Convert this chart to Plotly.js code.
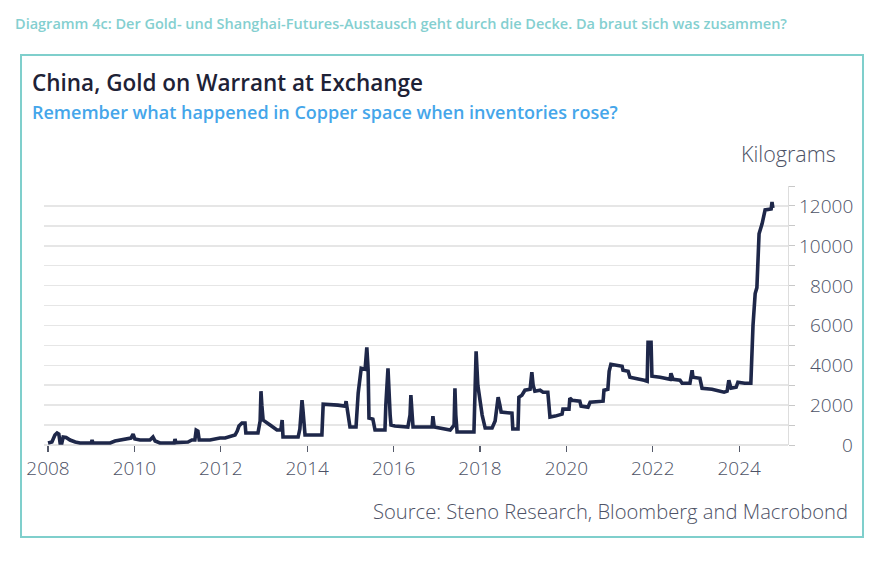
<!DOCTYPE html>
<html>
<head>
<meta charset="utf-8">
<script src="https://cdn.plot.ly/plotly-3.0.1.min.js"></script>
<style>
html,body{margin:0;padding:0;background:#fff;}
#chart{width:885px;height:562px;}
</style>
</head>
<body>
<div id="chart"></div>
<script>
// Decimal years
const years = [
2008.00,2008.09,2008.16,2008.21,2008.25,2008.28,2008.32,2008.35,2008.42,2008.51,2008.63,2008.74,
2009.00,2009.02,2009.04,2009.44,2009.55,2009.78,2009.92,2009.97,2010.01,2010.13,2010.36,2010.43,
2010.48,2010.59,2010.92,2010.94,2010.96,2011.24,2011.33,2011.40,2011.43,2011.47,2011.50,2011.75,
2011.87,2011.98,2012.10,2012.33,2012.38,2012.42,2012.49,2012.56,2012.58,2012.86,2012.91,2012.93,
2012.95,2012.98,2013.14,2013.30,2013.39,2013.42,2013.44,2013.79,2013.83,2013.88,2013.90,2013.95,
2014.34,2014.37,2014.71,2014.88,2014.90,2014.94,2014.99,2015.13,2015.18,2015.25,2015.34,2015.38,
2015.41,2015.43,2015.52,2015.57,2015.80,2015.82,2015.87,2015.92,2015.94,2016.03,2016.33,2016.38,
2016.40,2016.43,2016.45,2016.89,2016.91,2016.94,2017.07,2017.31,2017.40,2017.42,2017.44,2017.47,
2017.86,2017.91,2017.95,2018.00,2018.05,2018.12,2018.28,2018.35,2018.37,2018.42,2018.46,2018.49,
2018.74,2018.76,2018.88,2018.90,2018.97,2019.04,2019.16,2019.18,2019.20,2019.23,2019.27,2019.39,
2019.46,2019.57,2019.62,2019.74,2019.85,2019.90,2019.92,2020.06,2020.08,2020.13,2020.31,2020.34,
2020.50,2020.55,2020.85,2020.87,2020.96,2020.99,2021.03,2021.15,2021.29,2021.31,2021.43,2021.47,
2021.77,2021.80,2021.87,2021.89,2021.96,2021.98,2022.17,2022.28,2022.40,2022.42,2022.47,2022.63,
2022.68,2022.86,2022.91,2022.93,2023.09,2023.14,2023.37,2023.65,2023.72,2023.76,2023.81,2023.93,
2023.97,2024.13,2024.27,2024.32,2024.37,2024.41,2024.46,2024.53,2024.55,2024.60,2024.74,2024.76,
2024.78
];
// Kilograms on warrant
const kilograms = [
100,150,500,600,550,100,100,400,380,250,150,100,
100,250,100,100,200,300,350,550,300,250,250,400,
200,100,100,300,120,150,250,250,750,700,250,250,
300,350,350,500,700,950,1100,1100,600,600,1200,2700,
2000,1250,1000,750,750,1250,400,400,800,2250,1800,500,
500,2050,2000,1950,2200,1500,900,900,2600,3850,3800,4900,
3800,1350,1300,750,750,2000,3850,1500,1000,950,900,1500,
2500,1500,900,900,1450,900,850,750,1000,2850,1500,650,
650,4700,3000,2250,1500,850,850,1200,1600,2400,2000,1650,
1600,800,800,2400,2500,2750,2800,3300,3650,3000,2700,2750,
2650,2650,1400,1450,1500,1550,1800,1800,2350,2250,2200,1950,
1900,2150,2200,2750,2800,3700,4050,4000,3950,3750,3700,3400,
3300,3250,3200,5150,5150,3450,3400,3350,3300,3600,3300,3250,
3100,3100,3750,3400,3350,2850,2800,2650,2700,3250,2850,2900,
3150,3100,3100,6000,7600,7900,10600,11100,11350,11800,11850,12200,
11900
];
const xTickVals = [2008,2010,2012,2014,2016,2018,2020,2022,2024];
const xTickText = ['2008','2010','2012','2014','2016','2018','2020','2022','2024'];
const yTickVals = [0,2000,4000,6000,8000,10000,12000];
const yTickText = ['0','2000','4000','6000','8000','10000','12000'];

const headerText = 'Diagramm 4c: Der Gold- und Shanghai-Futures-Austausch geht durch die Decke. Da braut sich was zusammen?';
const titleText = 'China, Gold on Warrant at Exchange';
const subtitleText = 'Remember what happened in Copper space when inventories rose?';
const unitText = 'Kilograms';
const sourceText = 'Source: Steno Research, Bloomberg and Macrobond';

const FONT = '"Open Sans", "Noto Sans", sans-serif';
const labelColor = '#4d5266';

const trace = {
  x: years, y: kilograms, type: 'scatter', mode: 'lines',
  line: {color: '#1e2749', width: 3.6, shape: 'linear'},
  hoverinfo: 'skip'
};

const annotations = [
  {text: headerText, xref:'paper', yref:'paper', x:-0.0417, y:1.6255, xanchor:'left', yanchor:'middle', showarrow:false,
   font:{family:'"Open Sans", sans-serif', size:14.5, color:'#84cfd0', weight:600}},
  {text: titleText, xref:'paper', yref:'paper', x:-0.0188, y:1.4015, xanchor:'left', yanchor:'middle', showarrow:false,
   font:{family:FONT, size:22.5, color:'#1e2236', weight:600}},
  {text: subtitleText, xref:'paper', yref:'paper', x:-0.0188, y:1.2857, xanchor:'left', yanchor:'middle', showarrow:false,
   font:{family:FONT, size:18, color:'#45a6ea', weight:600}},
  {text: unitText, xref:'paper', yref:'paper', x:1.067, y:1.1236, xanchor:'right', yanchor:'middle', showarrow:false,
   font:{family:FONT, size:21.5, color:labelColor, weight:300}},
  {text: sourceText, xref:'paper', yref:'paper', x:1.0833, y:-0.2548, xanchor:'right', yanchor:'middle', showarrow:false,
   font:{family:FONT, size:20.2, color:labelColor, weight:300}}
];
yTickVals.forEach((v, i) => {
  annotations.push({text: yTickText[i], xref:'paper', yref:'y', x:1.090, y:v, xanchor:'right', yanchor:'middle',
    showarrow:false, font:{family:FONT, size:19, color:labelColor, weight:300}});
});

const layout = {
  width: 885, height: 562,
  margin: {l:44, r:97, t:186, b:117},
  paper_bgcolor: '#ffffff', plot_bgcolor: '#ffffff',
  showlegend: false,
  font: {family: FONT, color: labelColor},
  xaxis: {
    range: [2007.907, 2025.13], type: 'linear',
    tickvals: xTickVals, ticktext: xTickText,
    ticks: 'outside', ticklen: 6, tickwidth: 1.3, tickcolor: '#555a6a',
    showgrid: false, zeroline: false, showline: false,
    tickfont: {family: FONT, size: 19, color: labelColor, weight: 300},
    fixedrange: true
  },
  yaxis: {
    range: [0, 13000], side: 'right',
    dtick: 2000, tick0: 0,
    showticklabels: false,
    ticks: 'outside', ticklen: 6, tickwidth: 1, tickcolor: '#c8c8c8',
    showgrid: true, gridcolor: '#e6e6e6', gridwidth: 1.5,
    minor: {dtick: 1000, tick0: 0, ticks: 'outside', ticklen: 6, tickcolor: '#c8c8c8', showgrid: true, gridcolor: '#e6e6e6', gridwidth: 1.5},
    zeroline: true, zerolinecolor: '#e3e3e3', zerolinewidth: 1.5,
    showline: true, linecolor: '#dddddd', linewidth: 1,
    fixedrange: true
  },
  shapes: [
    {type:'rect', xref:'paper', yref:'paper', x0:-0.0309, x1:1.1008, y0:-0.3552, y1:1.5058,
     line:{color:'#7fcfcc', width:2}, fillcolor:'rgba(0,0,0,0)', layer:'below'}
  ],
  annotations: annotations
};

Plotly.newPlot('chart', [trace], layout, {displayModeBar: false, staticPlot: true});
</script>
</body>
</html>
